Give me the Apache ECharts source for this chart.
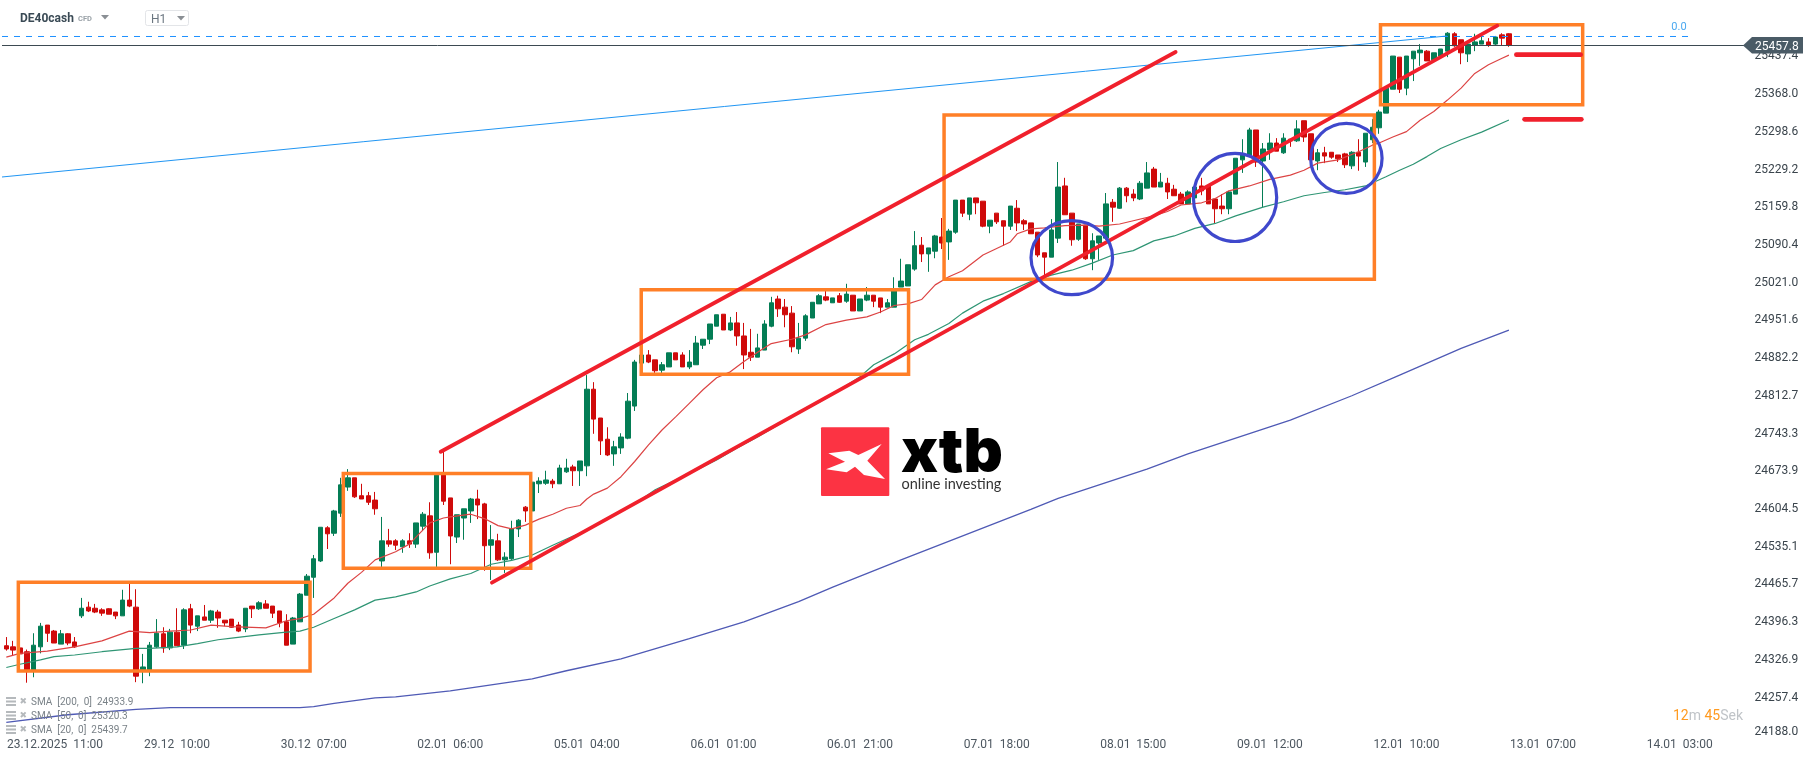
<!DOCTYPE html>
<html><head><meta charset="utf-8"><title>DE40cash H1</title>
<style>html,body{margin:0;padding:0;background:#fff}#c{width:1815px;height:761px}</style>
<script src="https://cdn.jsdelivr.net/npm/echarts@6/dist/echarts.min.js"></script></head>
<body><div id="c"></div>
<script>
var opens=[24353,24351,24349,24342,24308,24351,24391,24380,24356,24375,
24360,24408,24424,24422,24419,24421,24415,24408,24437,24424,
24307,24307,24351,24375,24349,24378,24354,24421,24389,24406,
24400,24415,24400,24402,24391,24384,24426,24421,24430,24426,
24417,24397,24356,24397,24446,24479,24509,24570,24560,24597,
24645,24662,24629,24629,24621,24509,24546,24546,24535,24546,
24540,24573,24592,24525,24667,24625,24553,24588,24601,24623,
24614,24538,24546,24511,24513,24568,24608,24601,24651,24652,
24656,24651,24673,24682,24675,24684,24825,24772,24733,24706,
24717,24735,24794,24873,24888,24879,24860,24866,24892,24888,
24866,24870,24906,24917,24941,24963,24934,24947,24923,24893,
24884,24897,24941,24991,24976,24965,24899,24919,24956,24982,
24995,24984,24997,24987,24998,24969,24989,24998,24993,24976,
24976,25013,25015,25046,25090,25074,25079,25105,25096,25114,
25173,25147,25177,25171,25125,25149,25135,25125,25158,25135,
25131,25114,25076,25068,25103,25199,25149,25101,25127,25065,
25094,25103,25169,25158,25195,25184,25175,25195,25230,25197,
25204,25193,25184,25166,25177,25199,25199,25175,25162,25157,
25184,25247,25256,25302,25245,25265,25278,25260,25285,25282,
25319,25295,25245,25260,25261,25256,25258,25236,25261,25243,
25284,25306,25333,25377,25436,25379,25433,25444,25447,25431,
25438,25447,25479,25468,25442,25458,25460,25464,25460,25477,
25479];
var closes=[24347,24345,24338,24307,24354,24389,24376,24358,24375,24358,
24351,24422,24417,24415,24413,24411,24408,24437,24426,24297,
24314,24354,24376,24349,24378,24353,24419,24391,24408,24400,
24417,24404,24395,24387,24380,24422,24421,24432,24422,24413,
24395,24354,24404,24448,24481,24513,24571,24559,24601,24649,
24662,24627,24623,24617,24605,24546,24540,24538,24546,24540,
24579,24595,24524,24667,24619,24555,24594,24605,24623,24612,
24537,24548,24511,24516,24568,24584,24601,24654,24656,24658,
24651,24680,24680,24675,24693,24825,24770,24730,24704,24719,
24737,24803,24875,24888,24875,24859,24870,24892,24879,24866,
24875,24910,24917,24945,24962,24934,24947,24923,24888,24884,
24901,24945,24984,24973,24962,24903,24919,24960,24985,24997,
24989,24993,24985,25000,24969,24991,24998,24987,24976,24984,
25006,25024,25054,25089,25074,25085,25107,25094,25116,25173,
25149,25177,25168,25125,25136,25133,25125,25162,25131,25129,
25111,25072,25068,25118,25197,25146,25100,25129,25065,25098,
25107,25166,25160,25195,25181,25177,25204,25223,25197,25206,
25188,25181,25166,25188,25197,25190,25166,25157,25157,25188,
25250,25256,25302,25243,25267,25278,25263,25287,25282,25304,
25289,25247,25260,25254,25252,25249,25238,25261,25254,25296,
25307,25335,25379,25438,25377,25438,25447,25449,25429,25444,
25451,25480,25457,25444,25460,25464,25466,25458,25473,25471,
25457.8];
var highs=[24369,24362,24351,24346,24376,24395,24391,24382,24382,24376,
24369,24441,24434,24430,24422,24422,24415,24456,24468,24457,
24338,24360,24402,24387,24384,24422,24422,24430,24408,24428,
24419,24419,24400,24402,24397,24422,24426,24435,24437,24426,
24417,24411,24406,24450,24485,24520,24571,24573,24603,24662,
24678,24662,24651,24636,24636,24590,24568,24549,24549,24560,
24579,24599,24617,24667,24711,24625,24594,24605,24625,24640,
24616,24575,24559,24525,24583,24586,24610,24665,24663,24675,
24660,24686,24697,24686,24693,24851,24838,24772,24755,24730,
24744,24818,24879,24888,24897,24879,24875,24892,24892,24893,
24897,24923,24917,24945,24962,24963,24958,24967,24947,24936,
24927,24952,24995,24997,24991,24978,24947,24963,24985,25000,
25006,24993,25002,25019,24998,24991,25013,24998,24993,24991,
25031,25065,25054,25116,25105,25085,25109,25140,25120,25173,
25173,25177,25177,25171,25136,25149,25135,25162,25173,25138,
25131,25114,25076,25138,25243,25214,25149,25129,25127,25112,
25107,25186,25175,25197,25197,25193,25208,25243,25234,25223,
25214,25201,25188,25191,25197,25214,25199,25175,25184,25190,
25250,25285,25306,25302,25278,25296,25287,25296,25285,25320,
25319,25295,25267,25271,25261,25256,25260,25263,25285,25296,
25322,25339,25379,25438,25436,25438,25447,25460,25449,25444,
25451,25482,25482,25468,25460,25479,25475,25471,25475,25480,
25480];
var lows=[24344,24335,24333,24285,24295,24339,24360,24358,24356,24354,
24349,24404,24415,24413,24408,24411,24402,24408,24424,24286,
24284,24297,24349,24340,24345,24353,24347,24376,24380,24400,
24395,24386,24389,24386,24378,24378,24404,24419,24422,24404,
24387,24354,24356,24397,24446,24441,24507,24531,24555,24590,
24638,24625,24623,24612,24594,24498,24535,24529,24524,24533,
24533,24564,24513,24498,24612,24503,24542,24548,24579,24586,
24491,24474,24509,24487,24511,24553,24581,24592,24634,24649,
24643,24651,24671,24647,24647,24665,24743,24704,24702,24684,
24706,24733,24785,24873,24873,24855,24855,24866,24879,24866,
24862,24870,24899,24908,24941,24934,24932,24905,24862,24877,
24884,24897,24939,24958,24939,24893,24890,24914,24956,24982,
24987,24984,24984,24984,24969,24969,24987,24976,24965,24976,
24976,25013,25015,25043,25059,25041,25066,25083,25063,25111,
25142,25136,25147,25123,25112,25129,25089,25118,25116,25118,
25111,25068,25031,25068,25094,25146,25089,25098,25063,25044,
25063,25100,25133,25157,25169,25171,25173,25195,25197,25197,
25175,25181,25166,25166,25166,25182,25166,25129,25147,25147,
25184,25223,25252,25234,25160,25247,25263,25258,25271,25280,
25280,25247,25228,25241,25249,25243,25232,25230,25227,25234,
25278,25295,25333,25377,25370,25366,25392,25420,25429,25431,
25438,25436,25455,25423,25427,25447,25460,25455,25458,25458,
25455];

var sma20Bars=[0,2,6,10,14,18,21,24,27,30,33,38,41,43,45,48,50,52,54,57,59,62,64,65,68,70,72,74,76,78,80,82,84,85,86,88,90,92,94,96,98,100,102,104,106,108,110,112,115,117,120,123,126,128,130,132,134,136,138,140,143,145,147,148,150,152,155,158,160,163,165,168,170,172,175,177,179,182,185,188,190,192,195,198,200,201,203,205,207,209,211,213,215,217,219,220];
var sma20Vals=[24332,24339,24343,24351,24362,24380,24377,24380,24382,24391,24388,24386,24399,24403,24411,24441,24468,24488,24511,24526,24540,24579,24588,24590,24595,24587,24574,24568,24575,24586,24595,24606,24611,24623,24632,24643,24664,24692,24722,24750,24774,24799,24824,24846,24857,24876,24893,24909,24917,24925,24944,24952,24958,24967,24979,24982,24990,25017,25032,25043,25072,25084,25096,25111,25120,25122,25126,25127,25125,25129,25135,25144,25152,25164,25168,25176,25190,25199,25211,25219,25228,25241,25247,25262,25274,25278,25289,25299,25320,25336,25357,25379,25406,25422,25434,25439.7];
var sma50Bars=[0,2,5,7,10,14,19,21,25,28,31,33,37,41,43,45,48,51,54,57,60,62,65,68,71,74,77,80,83,85,87,89,92,95,98,101,104,107,110,113,116,120,122,125,127,130,133,135,138,140,143,146,150,153,156,159,162,165,168,171,174,177,180,184,187,190,193,196,199,202,204,206,208,210,213,216,220];
var sma50Vals=[24313,24319,24327,24333,24336,24342,24348,24348,24351,24357,24364,24367,24373,24378,24380,24387,24403,24419,24437,24443,24452,24463,24476,24486,24503,24510,24520,24538,24555,24566,24581,24595,24614,24640,24658,24676,24695,24717,24737,24759,24781,24808,24824,24848,24870,24890,24916,24926,24946,24965,24987,25001,25023,25035,25044,25057,25072,25080,25098,25107,25121,25130,25144,25160,25170,25181,25187,25192,25199,25216,25228,25239,25253,25268,25284,25298,25320.3];
var sma200Bars=[0,9,19,24,43,45,48,54,57,65,77,82,90,100,108,116,121,131,150,154,161,167,173,180,188,197,204,213,220];
var sma200Vals=[24212,24226,24236,24239,24239,24241,24247,24257,24259,24270,24292,24307,24329,24366,24397,24434,24461,24511,24604,24624,24653,24678,24706,24735,24768,24813,24851,24900,24933.9];

var yTicks=[24188.0,24257.4,24326.9,24396.3,24465.7,24535.1,24604.5,24673.9,24743.3,24812.7,24882.2,24951.6,25021.0,25090.4,25159.8,25229.2,25298.6,25368.0,25437.4];
var xTickBars=[5,25,45,65,85,105,125,145,165,185,205,225,245];
var xTickLabels=['23.12.2025  11:00','29.12  10:00','30.12  07:00','02.01  06:00','05.01  04:00','06.01  01:00','06.01  21:00','07.01  18:00','08.01  15:00','09.01  12:00','12.01  10:00','13.01  07:00','14.01  03:00'];
var lastPrice=25457.8;
var fibLevel=25474;
var legendNames=['SMA  [200,  0]  24933.9','SMA  [50,  0]  25320.3','SMA  [20,  0]  25439.7'];

// annotations as [bar, price] pairs
var boxes=[[1.76,24469.7,44.47,24306.5],[49.34,24669.9,76.78,24495.5],[92.96,25008.1,132.1,24852.4],[137.3,25329.5,200.3,25027.2],[201.2,25495.7,230.8,25348.5]];
var channels=[[63.6,24710,171.2,25445.5],[71.1,24469,218.3,25493.9]];
var levels=[[221.1,25440.5,230.5,25440.5],[222.3,25321.6,230.6,25321.6]];
var fibLine=[[-0.63,fibLevel,246.6,fibLevel]];
var blueLine=[[-0.63,25215.5,210.9,25474.9]];
var circles=[[156.0,25067,5.97,68.1],[179.9,25177.8,6.1,81],[196.2,25249.9,5.23,64.4]];

var BAR_SLOTS=255;
var categories=[];for(var i=0;i<BAR_SLOTS;i++)categories.push(String(i));
var candles=opens.map(function(o,i){return [o,closes[i],lows[i],highs[i]];});
function pairs(b,v){return b.map(function(x,i){return [x,v[i]];});}

function segSeries(name,data,style,z){
  return {name:name,type:'custom',xAxisIndex:1,yAxisIndex:0,z:z,silent:true,data:data,encode:{x:[0,2],y:[1,3]},
    renderItem:function(p,api){
      var a=api.coord([api.value(0),api.value(1)]),b=api.coord([api.value(2),api.value(3)]);
      return {type:'line',shape:{x1:a[0],y1:a[1],x2:b[0],y2:b[1]},style:style};
    }};
}
var option={
  animation:false,backgroundColor:'#fff',
  textStyle:{fontFamily:'Roboto'},
  grid:{left:2.9,top:0,width:BAR_SLOTS*6.83,height:738,containLabel:false},
  xAxis:[{type:'category',data:categories,axisLine:{show:false},axisTick:{show:false},splitLine:{show:false},
      axisLabel:{margin:1,color:'#4d5760',fontSize:12,fontFamily:'Roboto',
        interval:function(idx){return xTickBars.indexOf(idx)>=0;},
        formatter:function(v,idx){var k=xTickBars.indexOf(+v);if(k<0)return '';return k===0?'{first|'+xTickLabels[k]+'}':xTickLabels[k];},
        rich:{first:{padding:[0,0,0,29],color:'#4d5760',fontSize:12,fontFamily:'Roboto'}}}},
    {type:'value',min:-0.5,max:BAR_SLOTS-0.5,show:false,splitLine:{show:false}}],
  yAxis:[{type:'value',position:'right',min:24183.25,max:25541.15,axisLine:{show:false},axisTick:{show:false},splitLine:{show:false},
      axisLabel:{customValues:yTicks,margin:10,align:'left',color:'#3a444c',fontSize:12,fontFamily:'Roboto',
        formatter:function(v){return v<24200?'{low|'+v.toFixed(1)+'}':v.toFixed(1);},
        rich:{low:{padding:[0,0,6,0],color:'#3a444c',fontSize:12,fontFamily:'Roboto'}}}}],
  series:[
    {name:'DE40cash',type:'candlestick',data:candles,barWidth:5,z:2,silent:true,
      itemStyle:{color:'#047d55',color0:'#cf0a0a',borderColor:'#047d55',borderColor0:'#cf0a0a',borderWidth:1}},
    {name:'SMA20',type:'line',data:pairs(sma20Bars,sma20Vals),showSymbol:false,silent:true,z:3,lineStyle:{color:'#dc4444',width:1.2}},
    {name:'SMA50',type:'line',data:pairs(sma50Bars,sma50Vals),showSymbol:false,silent:true,z:3,lineStyle:{color:'#2f9574',width:1.2}},
    {name:'SMA200',type:'line',data:pairs(sma200Bars,sma200Vals),showSymbol:false,silent:true,z:3,lineStyle:{color:'#4f5ab5',width:1.3}},
    segSeries('Blue trend',blueLine,{stroke:'#2196f3',lineWidth:1,fill:null},4),
    segSeries('Fibo 0.0',fibLine,{stroke:'#1e90ff',lineWidth:1,lineDash:[6,6],fill:null},4),
    {name:'Price line',type:'custom',xAxisIndex:0,yAxisIndex:0,z:4,silent:true,data:[[0,lastPrice]],clip:false,
      renderItem:function(p,api){
        var y=Math.round(api.coord([0,api.value(1)])[1]-.5)+.5;
        return {type:'group',children:[
          {type:'line',shape:{x1:2,y1:y,x2:1744,y2:y},style:{stroke:'#3d4a52',lineWidth:1}},
          {type:'polygon',shape:{points:[[1743,y],[1752,y-8.5],[1803,y-8.5],[1803,y+8],[1752,y+8]]},style:{fill:'#4a5b66'}},
          {type:'text',style:{text:api.value(1).toFixed(1),x:1755,y:y+1,fill:'#fff',font:'12px Roboto',verticalAlign:'middle',textAlign:'left'}}
        ]};
      }},
    {name:'Boxes',type:'custom',xAxisIndex:1,yAxisIndex:0,z:5,silent:true,data:boxes,encode:{x:[0,2],y:[1,3]},
      renderItem:function(p,api){
        var a=api.coord([api.value(0),api.value(1)]),b=api.coord([api.value(2),api.value(3)]);
        return {type:'rect',shape:{x:a[0],y:a[1],width:b[0]-a[0],height:b[1]-a[1]},style:{stroke:'#ff7f27',lineWidth:3.5,fill:null}};
      }},
    segSeries('Channels',channels,{stroke:'#f0202c',lineWidth:3.8,fill:null,lineCap:'round'},6),
    segSeries('Levels',levels,{stroke:'#f0202c',lineWidth:4.8,fill:null,lineCap:'round'},6),
    {name:'Circles',type:'custom',xAxisIndex:1,yAxisIndex:0,z:7,silent:true,data:circles,encode:{x:0,y:1},
      renderItem:function(p,api){
        var c=api.coord([api.value(0),api.value(1)]),e=api.coord([api.value(0)+api.value(2),api.value(1)-api.value(3)]);
        return {type:'ellipse',shape:{cx:c[0],cy:c[1],rx:e[0]-c[0],ry:e[1]-c[1]},style:{stroke:'#3f48cc',lineWidth:3.2,fill:null}};
      }}
  ],
  graphic:{elements:[].concat(
    [
     {type:'text',x:20,y:19,z:20,style:{text:'DE40cash',fill:'#3a4a55',font:'bold 12px Roboto',verticalAlign:'middle'}},
     {type:'text',x:78,y:19.5,z:20,style:{text:'CFD',fill:'#9aa2a8',font:'bold 7.5px Roboto',verticalAlign:'middle'}},
     {type:'polygon',z:20,shape:{points:[[101,15],[109,15],[105,19.5]]},style:{fill:'#8a8f94'}},
     {type:'rect',z:20,shape:{x:145.5,y:10.5,width:43,height:15,r:2},style:{stroke:'#e3e5e8',fill:'#fff',lineWidth:1}},
     {type:'text',x:151,y:19.5,z:21,style:{text:'H1',fill:'#6b7680',font:'12px Roboto',verticalAlign:'middle'}},
     {type:'polygon',z:21,shape:{points:[[177,16],[185,16],[181,20.5]]},style:{fill:'#8a8f94'}},
     {type:'text',x:1679,y:27.3,z:20,style:{text:'0.0',fill:'#4aa8f0',font:'11px Roboto',verticalAlign:'middle',textAlign:'center'}},
     {type:'text',x:1673,y:716,z:20,style:{text:'{a|12}{b|m} {a|45}{b|Sek}',font:'14px Roboto',verticalAlign:'middle',
        rich:{a:{fill:'#ff9a1f',font:'14px Roboto'},b:{fill:'#c0c4c8',font:'14px Roboto'}}}},
     {type:'rect',z:1,shape:{x:821,y:427.3,width:68.3,height:68.7,r:1},style:{fill:'#fc3343'}},
     {type:'polygon',z:1,shape:{points:[[828.3,453.3],[849.3,450.7],[858.3,455],[881.7,444],[867.3,460.7],[885,479],[864,475],[855,466.7],[846.7,472.3],[826,469.3],[845,461.7]]},style:{fill:'#fff'}},
     {type:'text',x:901,y:454,z:1,style:{text:'xtb',fill:'#000',font:'900 61px Inter',verticalAlign:'middle'}},
     {type:'text',x:901.5,y:484.5,z:1,style:{text:'online investing',fill:'#333',font:'14.5px Lato',verticalAlign:'middle'}}
    ],
    legendNames.reduce(function(acc,name,k){
      var y=701.5+14*k;
      return acc.concat([
        {type:'rect',z:8,shape:{x:6,y:y-4.5,width:10,height:2},style:{fill:'#b5b9bc'}},
        {type:'rect',z:8,shape:{x:6,y:y-1,width:10,height:2},style:{fill:'#b5b9bc'}},
        {type:'rect',z:8,shape:{x:6,y:y+2.5,width:10,height:2},style:{fill:'#b5b9bc'}},
        {type:'text',x:19.5,y:y,z:8,style:{text:'\u2716',fill:'#b5b9bc',font:'9px "DejaVu Sans"',verticalAlign:'middle'}},
        {type:'text',x:31,y:y+.5,z:8,style:{text:name,fill:'#7a8288',font:'10px Roboto',verticalAlign:'middle'}}
      ]);
    },[])
  )}
};
echarts.init(document.getElementById('c'),null,{renderer:'canvas'}).setOption(option);
</script></body></html>
